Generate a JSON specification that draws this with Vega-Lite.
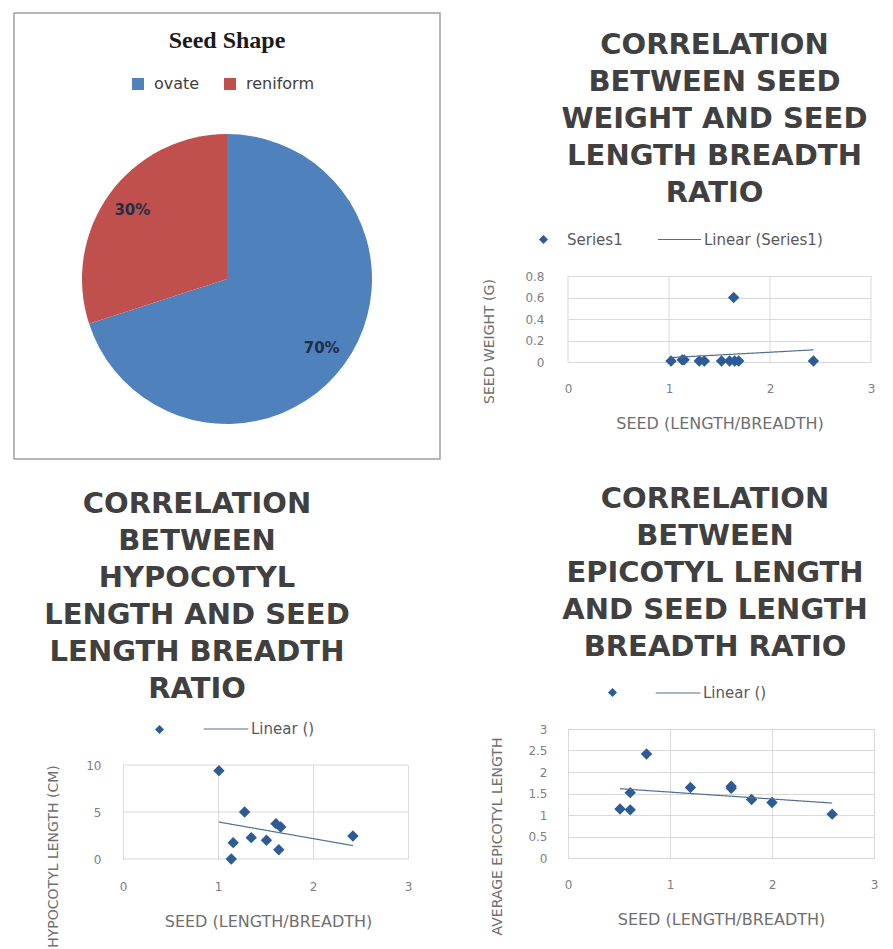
{
  "$schema": "https://vega.github.io/schema/vega-lite/v6.json",
  "background": "white",
  "padding": {"left": 13, "top": 12, "right": 0, "bottom": 0},
  "columns": 2,
  "align": "none",
  "center": false,
  "spacing": 41,
  "resolve": {"scale": {"shape": "independent", "strokeDash": "independent", "color": "independent", "x": "independent", "y": "independent"}, "legend": {"shape": "independent", "strokeDash": "independent", "color": "independent"}},
  "config": {
    "font": "DejaVu Sans",
    "view": {"stroke": "#D9D9D9"},
    "axis": {"domain": false, "ticks": false, "tickSize": 0, "grid": true, "gridColor": "#D9D9D9", "labelColor": "#7f7f7f", "labelFont": "DejaVu Sans", "labelFontSize": 12, "labelFlush": false, "labelOverlap": false, "titleColor": "#6f6f6f", "titleFontWeight": "normal", "titleFont": "DejaVu Sans"},
    "axisX": {"titleFontSize": 16},
    "axisY": {"titleFontSize": 14},
    "legend": {"title": null, "orient": "none", "direction": "horizontal", "labelFontSize": 15, "labelColor": "#595959"},
    "title": {"font": "DejaVu Sans", "fontSize": 29, "fontWeight": "bold", "color": "#404040", "lineHeight": 37, "anchor": "middle"}
  },
  "concat": [
    {
      "columns": 1,
      "align": "none",
      "center": false,
      "spacing": 30,
      "resolve": {"scale": {"shape": "independent", "strokeDash": "independent", "color": "independent", "x": "independent", "y": "independent"}, "legend": {"shape": "independent", "strokeDash": "independent", "color": "independent"}},
      "concat": [
        {
          "width": 426,
          "height": 446,
          "view": {"stroke": "#a0a0a0", "strokeWidth": 1.5},
          "title": {"text": "Seed Shape", "font": "Liberation Serif", "fontSize": 24, "fontWeight": "bold", "color": "#1a1a1a", "offset": -40},
          "data": {"values": [
            {"shape": "ovate", "pct": 70, "label": "70%"},
            {"shape": "reniform", "pct": 30, "label": "30%"}
          ]},
          "encoding": {
            "theta": {"field": "pct", "type": "quantitative", "stack": true},
            "order": {"field": "pct", "type": "quantitative", "sort": "descending"},
            "color": {"field": "shape", "type": "nominal", "scale": {"domain": ["ovate", "reniform"], "range": ["#4F81BD", "#C0504D"]},
              "legend": {"legendX": 116, "legendY": 63, "symbolType": "square", "symbolSize": 144, "labelFontSize": 16, "labelColor": "#404040", "labelOffset": 8, "columnPadding": 22, "symbolStrokeWidth": 0}}
          },
          "layer": [
            {"mark": {"type": "arc", "outerRadius": 145, "yOffset": 43}},
            {"mark": {"type": "text", "radius": 117, "yOffset": 43, "fontSize": 15, "fontWeight": "bold"},
             "encoding": {"text": {"field": "label"}, "color": {"value": "#1f2d45"}}}
          ]
        },
        {
          "width": 394,
          "height": 94,
          "view": {"stroke": null},
          "title": {"text": ["CORRELATION", "BETWEEN", "HYPOCOTYL", "LENGTH AND SEED", "LENGTH BREADTH", "RATIO"], "offset": 2, "dx": -14},
          "data": {"values": [
            {"x": 1.01, "y": 9.4}, {"x": 1.28, "y": 5.0}, {"x": 1.61, "y": 3.76}, {"x": 1.66, "y": 3.4},
            {"x": 1.35, "y": 2.27}, {"x": 1.51, "y": 1.99}, {"x": 1.16, "y": 1.74}, {"x": 1.64, "y": 0.99},
            {"x": 1.14, "y": 0.0}, {"x": 2.42, "y": 2.45}
          ]},
          "encoding": {
            "x": {"field": "x", "type": "quantitative", "scale": {"domain": [0, 3], "nice": false, "range": [109, 394]}, "axis": {"values": [0, 1, 2, 3], "grid": true, "title": "SEED (LENGTH/BREADTH)", "titleX": 254, "labelPadding": 22, "titlePadding": 21, "format": "~r"}},
            "y": {"field": "y", "type": "quantitative", "scale": {"domain": [0, 10], "nice": false}, "axis": {"values": [0, 5, 10], "grid": false, "offset": -109, "title": "HYPOCOTYL LENGTH (CM)", "labelPadding": 22, "titlePadding": 25, "titleY": 91, "format": "~r", "labelOverlap": false}}
          },
          "layer": [
            {
              "data": {"values": [{"y": 0, "x": 0, "x2": 3}, {"y": 5, "x": 0, "x2": 3}, {"y": 10, "x": 0, "x2": 3}]},
              "mark": {"type": "rule", "color": "#D9D9D9", "strokeWidth": 1},
              "encoding": {"x2": {"field": "x2"}}
            },
            {
              "mark": {"type": "point", "filled": true, "size": 130, "opacity": 1, "color": "#2D5B97"},
              "encoding": {
                "shape": {"datum": "Series1", "type": "nominal", "scale": {"domain": ["Series1"], "range": ["diamond"]},
                  "legend": {"legendX": 138, "legendY": -43, "symbolSize": 80, "labelExpr": "''"}}
              }
            },
            {
              "transform": [{"regression": "y", "on": "x"}],
              "mark": {"type": "line", "color": "#4F6E93", "strokeWidth": 1.2},
              "encoding": {
                "strokeDash": {"datum": "Linear ()", "type": "nominal", "scale": {"domain": ["Linear ()"], "range": [[1, 0]]},
                  "legend": {"legendX": 189, "legendY": -59, "symbolType": "stroke", "symbolSize": 2000, "symbolStrokeWidth": 1.2, "symbolStrokeColor": "#4F6E93", "labelOffset": 2}}
              }
            }
          ]
        }
      ]
    },
    {
      "columns": 1,
      "align": "none",
      "center": false,
      "spacing": 53,
      "resolve": {"scale": {"shape": "independent", "strokeDash": "independent", "color": "independent", "x": "independent", "y": "independent"}, "legend": {"shape": "independent", "strokeDash": "independent", "color": "independent"}},
      "concat": [
        {
          "width": 303,
          "height": 349,
          "view": {"stroke": null},
          "title": {"text": ["CORRELATION", "BETWEEN SEED", "WEIGHT AND SEED", "LENGTH BREADTH", "RATIO"], "offset": -195, "dx": -5},
          "data": {"values": [
            {"x": 1.02, "y": 0.01}, {"x": 1.13, "y": 0.02}, {"x": 1.15, "y": 0.02}, {"x": 1.30, "y": 0.01},
            {"x": 1.35, "y": 0.01}, {"x": 1.52, "y": 0.01}, {"x": 1.60, "y": 0.01}, {"x": 1.65, "y": 0.01},
            {"x": 1.69, "y": 0.01}, {"x": 2.43, "y": 0.01}, {"x": 1.64, "y": 0.6}
          ]},
          "encoding": {
            "x": {"field": "x", "type": "quantitative", "scale": {"domain": [0, 3], "nice": false}, "axis": {"values": [0, 1, 2, 3], "grid": false, "title": "SEED (LENGTH/BREADTH)", "labelPadding": 21, "titlePadding": 21, "format": "~r"}},
            "y": {"field": "y", "type": "quantitative", "scale": {"domain": [0, 0.8], "nice": false, "range": [349, 263]}, "axis": {"values": [0, 0.2, 0.4, 0.6, 0.8], "title": "SEED WEIGHT (G)", "labelPadding": 24, "titlePadding": 28, "titleY": 328, "format": "~r", "labelOverlap": false}}
          },
          "layer": [
            {
              "data": {"values": [{"x": 0, "y": 0, "y2": 0.8}, {"x": 1, "y": 0, "y2": 0.8}, {"x": 2, "y": 0, "y2": 0.8}, {"x": 3, "y": 0, "y2": 0.8}]},
              "mark": {"type": "rule", "color": "#D9D9D9", "strokeWidth": 1},
              "encoding": {"y2": {"field": "y2"}}
            },
            {
              "mark": {"type": "point", "filled": true, "size": 130, "opacity": 1, "color": "#2D5B97"},
              "encoding": {
                "shape": {"datum": "Series1", "type": "nominal", "scale": {"domain": ["Series1"], "range": ["diamond"]},
                  "legend": {"legendX": -32, "legendY": 219, "symbolSize": 80, "labelOffset": 16}}
              }
            },
            {
              "transform": [{"regression": "y", "on": "x"}],
              "mark": {"type": "line", "color": "#4F6E93", "strokeWidth": 1.2},
              "encoding": {
                "strokeDash": {"datum": "Linear (Series1)", "type": "nominal", "scale": {"domain": ["Linear (Series1)"], "range": [[1, 0]]},
                  "legend": {"legendX": 89, "legendY": 204, "symbolType": "stroke", "symbolSize": 1850, "symbolStrokeWidth": 1.2, "symbolStrokeColor": "#4F6E93", "labelOffset": 2}}
              }
            }
          ]
        },
        {
          "width": 306,
          "height": 129,
          "title": {"text": ["CORRELATION", "BETWEEN", "EPICOTYL LENGTH", "AND SEED LENGTH", "BREADTH RATIO"], "offset": 8, "dx": -6},
          "data": {"values": [
            {"x": 0.51, "y": 1.14}, {"x": 0.61, "y": 1.12}, {"x": 0.61, "y": 1.52}, {"x": 0.77, "y": 2.42},
            {"x": 1.2, "y": 1.64}, {"x": 1.6, "y": 1.67}, {"x": 1.6, "y": 1.62}, {"x": 1.8, "y": 1.36},
            {"x": 2.0, "y": 1.29}, {"x": 2.59, "y": 1.02}
          ]},
          "encoding": {
            "x": {"field": "x", "type": "quantitative", "scale": {"domain": [0, 3], "nice": false}, "axis": {"values": [0, 1, 2, 3], "title": "SEED (LENGTH/BREADTH)", "labelPadding": 21, "titlePadding": 21, "format": "~r"}},
            "y": {"field": "y", "type": "quantitative", "scale": {"domain": [0, 3], "nice": false}, "axis": {"values": [0, 0.5, 1, 1.5, 2, 2.5, 3], "title": "AVERAGE EPICOTYL LENGTH", "labelPadding": 21, "titlePadding": 23, "titleY": 107, "format": "~r", "labelOverlap": false}}
          },
          "layer": [
            {
              "mark": {"type": "point", "filled": true, "size": 130, "opacity": 1, "color": "#2D5B97"},
              "encoding": {
                "shape": {"datum": "Series1", "type": "nominal", "scale": {"domain": ["Series1"], "range": ["diamond"]},
                  "legend": {"legendX": 37, "legendY": -44, "symbolSize": 80, "labelExpr": "''"}}
              }
            },
            {
              "transform": [{"regression": "y", "on": "x"}],
              "mark": {"type": "line", "color": "#4F6E93", "strokeWidth": 1.2},
              "encoding": {
                "strokeDash": {"datum": "Linear ()", "type": "nominal", "scale": {"domain": ["Linear ()"], "range": [[1, 0]]},
                  "legend": {"legendX": 87, "legendY": -59, "symbolType": "stroke", "symbolSize": 2000, "symbolStrokeWidth": 1.2, "symbolStrokeColor": "#4F6E93", "labelOffset": 2}}
              }
            }
          ]
        }
      ]
    }
  ]
}
